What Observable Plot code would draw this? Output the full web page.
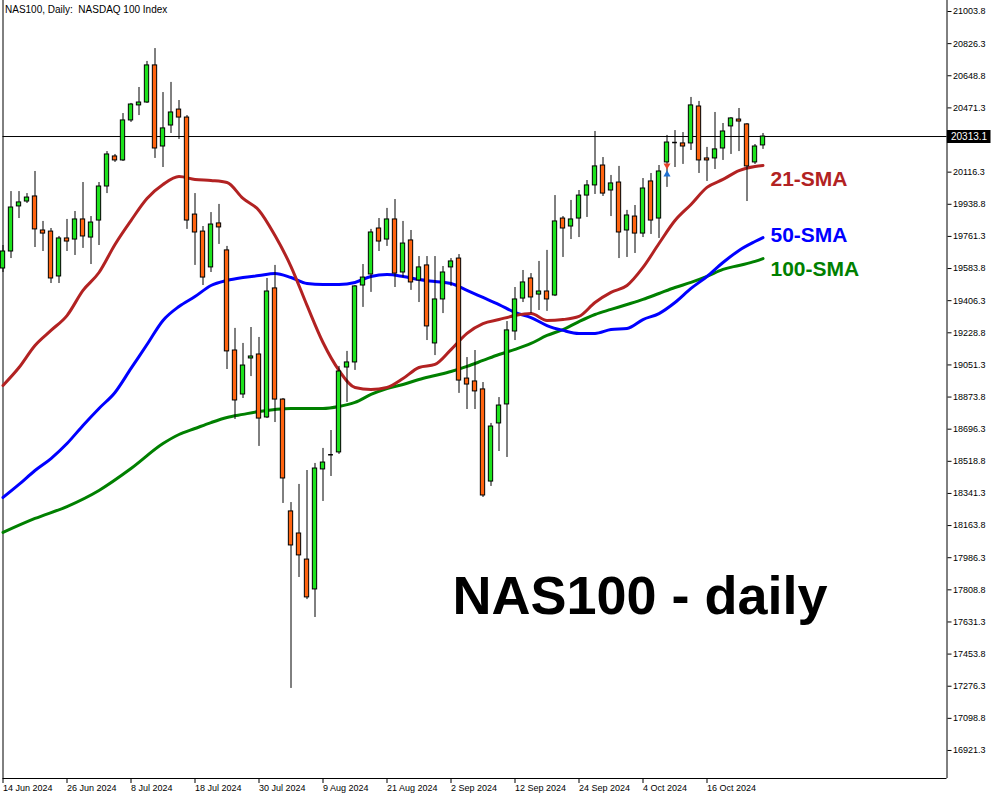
<!DOCTYPE html>
<html><head><meta charset="utf-8">
<script src="https://cdn.jsdelivr.net/npm/d3@7"></script>
<script src="https://cdn.jsdelivr.net/npm/@observablehq/plot@0.6"></script>
<style>body{margin:0;background:#fff}</style>
</head><body><div id="chart"></div>
<script>
// ---- data (daily candles, index 0 = 14 Jun 2024 ... 95 = 25 Oct 2024) ----
const open = [19584,19678,19927,19954,19982,19794,19788,19540,19750,19744,
19855,19755,19849,20037,20203,20181,20402,20485,20501,20706,
20258,20374,20462,20418,19882,19788,19590,19833,19684,19131,
18888,19087,19109,18761,19474,18860,18242,18120,17976,17811,
18474,18555,18568,19037,19065,19490,19551,19805,19744,19855,
19562,19739,19518,19601,19170,19413,19590,19639,18976,18960,
18916,18407,18728,18833,19236,19418,19529,19440,19457,19435,
19860,19816,19860,19987,20043,20153,20015,20059,19794,19871,
19777,20065,19860,20170,20280,20275,20275,20479,20192,20192,
20247,20369,20407,20380,20170,20264];
const high = [19711,20009,20009,19998,20120,19844,19805,19761,19855,19899,
20059,19871,20059,20230,20214,20440,20496,20584,20728,20799,
20556,20612,20512,20429,19998,19816,19893,19938,19706,19253,
19170,19258,19203,19529,19601,18866,18291,18391,18468,18507,
18590,18689,19043,19126,19490,19606,19800,19860,19916,19965,
19844,19794,19650,19650,19650,19595,19639,19661,19092,19131,
18954,18728,18871,19291,19479,19573,19556,19623,19684,19987,
19871,19960,20015,20070,20341,20197,20098,20148,19905,19932,
20081,20109,20153,20319,20346,20335,20529,20507,20253,20446,
20385,20418,20468,20385,20269,20330];
const low = [19562,19639,19860,19943,19700,19678,19501,19501,19678,19656,
19695,19606,19711,19998,20170,20175,20391,20429,20496,20192,
20142,20330,20297,19800,19601,19490,19562,19717,19026,18750,
18866,18987,18601,18755,18733,18286,17264,17877,17755,17656,
18297,18435,18557,18844,19021,19369,19452,19678,19706,19479,
19534,19463,19396,19186,19103,19335,19485,18894,18805,18805,
18319,18380,18573,18540,19186,19396,19335,19352,19347,19429,
19645,19744,19755,19866,19993,19982,19871,19639,19645,19667,
19755,19772,19750,20032,20142,20159,20236,20109,20065,20131,
20181,20214,20230,19954,20159,20242];
const close = [19678,19921,19949,19976,19800,19777,19529,19750,19733,19855,
19761,19838,20037,20214,20181,20402,20490,20501,20706,20247,
20358,20446,20418,19849,19783,19534,19827,19811,19126,18855,
19048,19098,18755,19457,18860,18424,18054,17999,17767,18479,
18512,18555,19015,19065,19485,19534,19783,19733,19855,19556,
19722,19507,19590,19264,19413,19562,19623,18965,18943,18905,
18330,18711,18827,19242,19413,19507,19424,19457,19413,19844,
19805,19855,19987,20043,20148,19998,20054,19783,19877,19777,
20026,19849,20120,20280,20280,20258,20485,20181,20181,20242,
20341,20413,20396,20148,20258,20313.1];

// moving averages, read at these bar indices
const smaIdx = [0,2,4,6,8,10,12,14,16,18,20,22,24,26,28,30,32,34,36,38,40,42,44,46,48,50,52,54,56,58,60,62,64,66,68,70,72,74,76,78,80,82,84,86,88,90,92,94,95];
const sma21 = [18938,19037,19159,19242,19324,19463,19562,19717,19849,19971,
20048,20092,20076,20070,20059,19971,19905,19766,19595,19380,
19175,19021,18927,18916,18927,18976,19037,19054,19136,19226,
19280,19302,19324,19335,19297,19302,19319,19396,19452,19490,
19590,19722,19849,19938,20032,20076,20125,20148,20153];
const sma50 = [18319,18391,18468,18534,18617,18717,18811,18899,19032,19164,
19297,19374,19429,19490,19518,19534,19545,19556,19534,19501,
19496,19496,19507,19540,19551,19540,19523,19512,19501,19463,
19424,19385,19341,19313,19269,19242,19225,19225,19247,19253,
19302,19335,19396,19474,19540,19617,19684,19733,19755];
const sma100Idx = [0,4,8,12,16,20,22,24,26,28,30,32,34,36,38,40,42,44,46,48,50,52,54,56,58,60,62,64,66,68,70,72,74,76,78,80,82,84,86,88,90,92,94,95];
const sma100 = [18126,18203,18269,18358,18479,18617,18667,18700,18733,18761,18778,18794,18805,18811,18811,18811,18822,18844,18888,18921,18943,18971,18993,19015,19043,19076,19109,19137,19170,19214,19247,19291,19330,19358,19385,19413,19446,19479,19507,19540,19579,19601,19623,19639];

const xTickIdx = [0,8,16,24,32,40,48,56,64,72,80,88];
const xTickLabels = ["14 Jun 2024","26 Jun 2024","8 Jul 2024","18 Jul 2024","30 Jul 2024","9 Aug 2024","21 Aug 2024","2 Sep 2024","12 Sep 2024","24 Sep 2024","4 Oct 2024","16 Oct 2024"];
const yTicks = [21003.8,20826.3,20648.8,20471.3,20293.8,20116.3,19938.8,19761.3,19583.8,19406.3,19228.8,19051.3,18873.8,18696.3,18518.8,18341.3,18163.8,17986.3,17808.8,17631.3,17453.8,17276.3,17098.8,16921.3];
const lastPrice = 20313.1;
const markerIdx = [83, 83];
const markerPrice = [20153, 20104];
const markerKind = ["sell", "buy"];
const chartTitle = "NAS100, Daily:\u00a0 NASDAQ 100 Index";
const bigTitle = "NAS100 - daily";
const smaLabels = ["21-SMA", "50-SMA", "100-SMA"];

// ---- build ----
const UP = "#1de21d", DOWN = "#ff6410";
const candles = open.map((o, i) => ({i, open: o, high: high[i], low: low[i], close: close[i]}));
const bodies = candles.filter(d => d.open !== d.close);
const dojis = candles.filter(d => d.open === d.close);
const s21 = smaIdx.map((i, k) => ({i, v: sma21[k]}));
const s50 = smaIdx.map((i, k) => ({i, v: sma50[k]}));
const s100 = sma100Idx.map((i, k) => ({i, v: sma100[k]}));
const markers = markerIdx.map((i, k) => ({i, v: markerPrice[k], kind: markerKind[k]}));
const font = "'Liberation Sans', Arial, sans-serif";

const chart = Plot.plot({
  width: 1000, height: 800,
  marginLeft: 2.5, marginRight: 53.5, marginTop: 0, marginBottom: 22,
  x: {domain: [0, 118], axis: null, label: null},
  y: {domain: [16766.5, 21064.6], axis: null, label: null},
  style: {fontFamily: font, fontSize: "9px", background: "white", overflow: "visible", color: "black"},
  marks: [
    Plot.ruleX([0, 118], {stroke: "black"}),
    Plot.ruleY([16766.5], {stroke: "black"}),
    Plot.axisY({anchor: "right", label: null, ticks: yTicks, tickFormat: d => d.toFixed(1), tickSize: 4, tickPadding: 2, fontSize: 9}),
    Plot.axisX({anchor: "bottom", label: null, ticks: xTickIdx, tickFormat: d => xTickLabels[xTickIdx.indexOf(d)], tickSize: 5, tickPadding: 1, textAnchor: "start", fontSize: 9}),
    Plot.ruleY([lastPrice], {x1: 0, x2: 118, stroke: "black", strokeWidth: 1}),
    Plot.line(s100, {x: "i", y: "v", stroke: "#008000", strokeWidth: 3, curve: "monotone-x"}),
    Plot.line(s50, {x: "i", y: "v", stroke: "#0000ff", strokeWidth: 3, curve: "monotone-x"}),
    Plot.line(s21, {x: "i", y: "v", stroke: "#b22222", strokeWidth: 3, curve: "monotone-x"}),
    Plot.ruleX(candles, {x: "i", y1: "low", y2: "high", stroke: "black", strokeWidth: 1}),
    Plot.rect(bodies, {x1: d => d.i - 0.27, x2: d => d.i + 0.27, y1: "open", y2: "close",
      fill: d => d.close > d.open ? UP : DOWN, stroke: "black", strokeWidth: 1}),
    Plot.ruleY(dojis, {y: "close", x1: d => d.i - 0.3, x2: d => d.i + 0.3, stroke: "black", strokeWidth: 1.5}),
    Plot.dot(markers, {x: "i", y: "v", symbol: "triangle", r: 2.6, rotate: d => d.kind === "sell" ? 180 : 0,
      fill: d => d.kind === "sell" ? "#e8432b" : "#1e6fd0", stroke: null}),
    Plot.ruleY([lastPrice], {x1: 118.05, x2: 123.5, stroke: "black", strokeWidth: 13}),
    Plot.text([lastPrice], {x: 118, y: d => d, text: d => d.toFixed(1), textAnchor: "start", dx: 4, fill: "white", fontSize: 10}),
    Plot.text([chartTitle], {text: d => d, frameAnchor: "top-left", dx: 2, dy: 9, lineAnchor: "middle", textAnchor: "start", fontSize: 10, fill: "black"}),
    Plot.text([bigTitle], {text: d => d, frameAnchor: "top-left", dx: 449.5, dy: 596, lineAnchor: "middle", textAnchor: "start", fontSize: 54, fontWeight: "bold", fill: "black"}),
    Plot.text([smaLabels[0]], {text: d => d, frameAnchor: "top-left", dx: 767.5, dy: 179, lineAnchor: "middle", textAnchor: "start", fontSize: 21, fontWeight: "bold", fill: "#b22222"}),
    Plot.text([smaLabels[1]], {text: d => d, frameAnchor: "top-left", dx: 767.5, dy: 235, lineAnchor: "middle", textAnchor: "start", fontSize: 21, fontWeight: "bold", fill: "#0000ff"}),
    Plot.text([smaLabels[2]], {text: d => d, frameAnchor: "top-left", dx: 767.5, dy: 269, lineAnchor: "middle", textAnchor: "start", fontSize: 21, fontWeight: "bold", fill: "#008000"})
  ]
});
document.getElementById("chart").appendChild(chart);
</script>
</body></html>
